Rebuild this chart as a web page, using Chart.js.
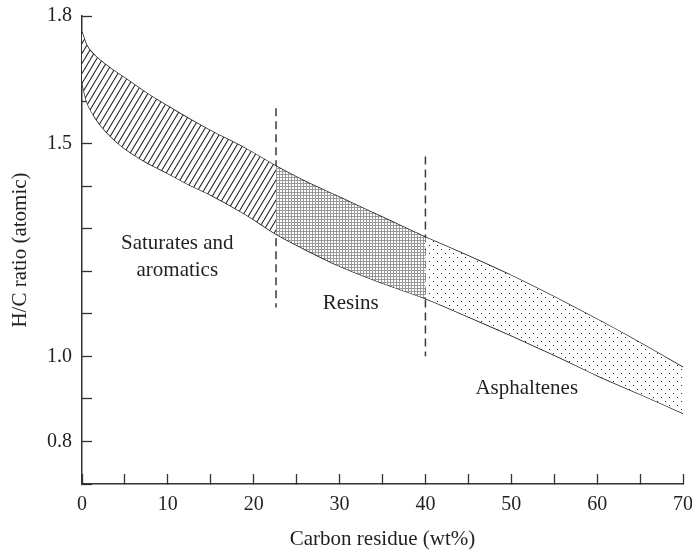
<!DOCTYPE html>
<html>
<head>
<meta charset="utf-8">
<script src="https://cdn.jsdelivr.net/npm/chart.js@4.4.0/dist/chart.umd.min.js"></script>
<style>
  html, body { margin: 0; padding: 0; background: #fff; }
</style>
</head>
<body>
<canvas id="chart" width="692" height="552"></canvas>
<script>
// Carbon residue (wt%) at the sample points along the band
const carbonResidue = [0, 0.5, 1.5, 3, 5, 7.5, 10, 12.5, 15, 19, 22.6, 26, 30, 35, 40, 45, 50, 55, 60, 65, 70];
// Upper and lower edge of the H/C band
const upperHC = [1.762, 1.733, 1.707, 1.682, 1.654, 1.619, 1.588, 1.558, 1.530, 1.489, 1.447, 1.411, 1.374, 1.327, 1.28, 1.236, 1.19, 1.14, 1.087, 1.032, 0.974];
const lowerHC = [1.645, 1.602, 1.562, 1.524, 1.488, 1.456, 1.430, 1.403, 1.379, 1.334, 1.287, 1.251, 1.212, 1.172, 1.136, 1.093, 1.049, 1.003, 0.955, 0.911, 0.866];

// Fraction limits and the dashed separators (top / bottom H/C of each dash)
const boundaries = [22.6, 40];
const dashTop = [1.583, 1.47];
const dashBottom = [1.115, 1.0];

// Tick labels
const xTickLabels = [0, 10, 20, 30, 40, 50, 60, 70];
const yTickLabels = [0.8, 1.0, 1.5, 1.8];

// Fraction names, anchored in data units
const labelText = ['Saturates and', 'aromatics', 'Resins', 'Asphaltenes'];
const labelX = [11.1, 11.1, 31.3, 51.8];
const labelY = [1.266, 1.203, 1.125, 0.925];

const INK = '#231f20';
const FONT = 'Liberation Serif';

function makePattern(w, h, draw) {
  const c = document.createElement('canvas');
  c.width = w; c.height = h;
  const g = c.getContext('2d');
  g.fillStyle = '#fff';
  g.fillRect(0, 0, w, h);
  draw(g, w, h);
  return g.createPattern(c, 'repeat');
}

// diagonal hatch
const hatch = makePattern(6, 10, (g, w, h) => {
  g.strokeStyle = '#222';
  g.lineWidth = 1.1;
  g.beginPath();
  for (let k = -1; k <= 1; k++) {
    g.moveTo(k * w, h);
    g.lineTo(k * w + w, 0);
  }
  g.stroke();
});

// fine grey mesh
const mesh = makePattern(3, 3, (g) => {
  g.fillStyle = '#999';
  g.fillRect(0, 0, 3, 1);
  g.fillRect(0, 0, 1, 3);
});

// sparse dots
const dots = makePattern(8, 8, (g) => {
  g.fillStyle = '#222';
  g.fillRect(1, 1, 1, 1);
  g.fillRect(5, 5, 1, 1);
});

function slicePoints(ys, from, to) {
  const pts = [];
  carbonResidue.forEach((x, i) => {
    if (x >= from && x <= to) pts.push({ x: x, y: ys[i] });
  });
  return pts;
}

const edges = [carbonResidue[0], ...boundaries, carbonResidue[carbonResidue.length - 1]];
const fills = [hatch, mesh, dots];
const datasets = [];

fills.forEach((pat, r) => {
  datasets.push({
    data: slicePoints(lowerHC, edges[r], edges[r + 1]),
    borderColor: 'rgba(0,0,0,0)', borderWidth: 1, pointRadius: 0,
    fill: false, cubicInterpolationMode: 'monotone'
  });
  datasets.push({
    data: slicePoints(upperHC, edges[r], edges[r + 1]),
    borderColor: 'rgba(0,0,0,0)', borderWidth: 1, pointRadius: 0,
    fill: '-1', backgroundColor: pat, cubicInterpolationMode: 'monotone'
  });
});

// band outlines
[upperHC, lowerHC].forEach(ys => {
  datasets.push({
    data: carbonResidue.map((x, i) => ({ x: x, y: ys[i] })),
    borderColor: '#1e1e1e', borderWidth: 1.4, pointRadius: 0,
    fill: false, cubicInterpolationMode: 'monotone'
  });
});

// dashed separators
boundaries.forEach((b, i) => {
  datasets.push({
    data: [{ x: b, y: dashTop[i] }, { x: b, y: dashBottom[i] }],
    borderColor: '#3a3a3a', borderWidth: 1.5, borderDash: [8, 5],
    pointRadius: 0, fill: false
  });
});

const fractionLabels = {
  id: 'fractionLabels',
  afterDatasetsDraw(chart) {
    const { ctx, scales: { x, y } } = chart;
    ctx.save();
    ctx.font = '21px "' + FONT + '"';
    ctx.fillStyle = INK;
    ctx.textAlign = 'center';
    ctx.textBaseline = 'middle';
    labelText.forEach((t, i) => {
      ctx.fillText(t, x.getPixelForValue(labelX[i]), y.getPixelForValue(labelY[i]));
    });
    ctx.restore();
  }
};

new Chart(document.getElementById('chart'), {
  type: 'line',
  data: { datasets: datasets },
  options: {
    responsive: false,
    animation: false,
    devicePixelRatio: 1,
    layout: { padding: { top: 16, right: 9, left: 0, bottom: 0 } },
    plugins: { legend: { display: false }, tooltip: { enabled: false } },
    scales: {
      x: {
        type: 'linear', min: 0, max: 70,
        ticks: {
          stepSize: 5, autoSkip: false, maxRotation: 0, padding: 19,
          color: INK, font: { family: FONT, size: 20 },
          callback: v => xTickLabels.includes(v) ? String(v) : ''
        },
        grid: { drawOnChartArea: false, drawTicks: true, tickLength: -10, tickColor: '#333', tickWidth: 1.3 },
        border: { color: '#333', width: 1.5 },
        title: {
          display: true, text: 'Carbon residue (wt%)', color: INK,
          font: { family: FONT, size: 21 }, padding: { top: 0, bottom: 0 }
        },
        afterFit: s => { s.height = 68; s.paddingLeft = 0; s.paddingRight = 0; }
      },
      y: {
        type: 'linear', min: 0.7, max: 1.8,
        ticks: {
          stepSize: 0.1, autoSkip: false, padding: 20,
          color: INK, font: { family: FONT, size: 20 },
          callback: v => yTickLabels.some(t => Math.abs(t - v) < 1e-6) ? v.toFixed(1) : ''
        },
        grid: { drawOnChartArea: false, drawTicks: true, tickLength: -10, tickColor: '#333', tickWidth: 1.3 },
        border: { color: '#333', width: 1.5 },
        title: {
          display: true, text: 'H/C ratio (atomic)', color: INK,
          font: { family: FONT, size: 21 }, padding: { top: 8, bottom: 0 }
        },
        afterFit: s => { s.width = 82; s.paddingTop = 0; s.paddingBottom = 0; }
      }
    }
  },
  plugins: [fractionLabels]
});
</script>
</body>
</html>
